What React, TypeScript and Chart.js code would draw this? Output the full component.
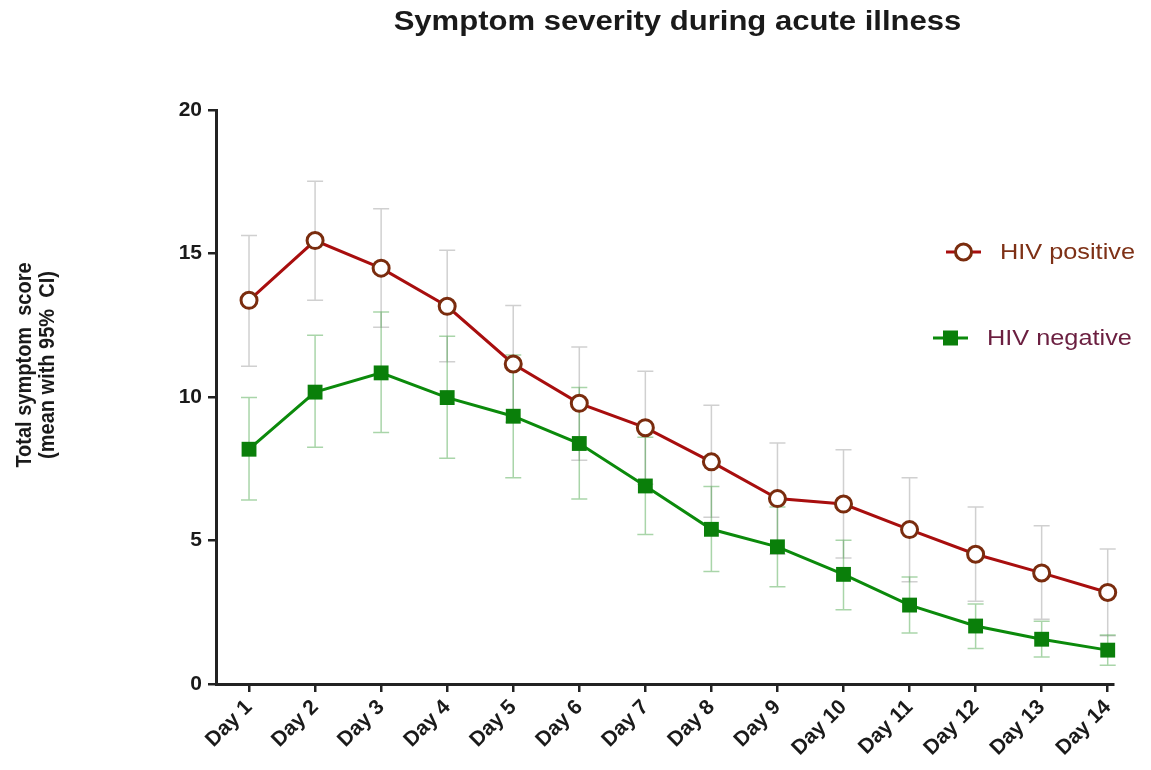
import React, { useEffect, useRef } from 'react';
import { Chart, registerables } from 'chart.js';

Chart.register(...registerables);

const chartTitle = 'Symptom severity during acute illness';
const yTitleLines = ['Total symptom  score', '(mean with 95%  CI)'];
const dayLabels = ['Day 1', 'Day 2', 'Day 3', 'Day 4', 'Day 5', 'Day 6', 'Day 7', 'Day 8', 'Day 9', 'Day 10', 'Day 11', 'Day 12', 'Day 13', 'Day 14'];
const dayIndex = [1, 2, 3, 4, 5, 6, 7, 8, 9, 10, 11, 12, 13, 14];
const yTicks = [0, 5, 10, 15, 20];

const posLabel = 'HIV positive';
const posMean = [13.37, 15.45, 14.49, 13.16, 11.15, 9.78, 8.93, 7.74, 6.46, 6.27, 5.38, 4.52, 3.87, 3.19];
const posLower = [11.07, 13.37, 12.43, 11.23, 9.12, 7.8, 6.96, 5.81, 4.52, 4.39, 3.56, 2.88, 2.26, 1.68];
const posUpper = [15.63, 17.52, 16.56, 15.11, 13.19, 11.74, 10.9, 9.71, 8.4, 8.16, 7.19, 6.17, 5.51, 4.7];

const negLabel = 'HIV negative';
const negMean = [8.18, 10.17, 10.84, 9.98, 9.33, 8.38, 6.9, 5.39, 4.78, 3.82, 2.75, 2.02, 1.56, 1.18];
const negLower = [6.41, 8.25, 8.76, 7.87, 7.19, 6.45, 5.21, 3.92, 3.39, 2.59, 1.78, 1.24, 0.94, 0.65];
const negUpper = [9.98, 12.15, 12.96, 12.12, 11.46, 10.33, 8.6, 6.88, 6.17, 5.01, 3.73, 2.79, 2.19, 1.71];

const FONT = '"Liberation Sans", Arial, Helvetica, sans-serif';
const POS_LINE = '#a80e0e';
const POS_MARK = '#7a2c0e';
const NEG_LINE = '#0b8a0b';
const NEG_MARK = '#0a7f0a';
const POS_CI = 'rgba(170,170,170,0.55)';
const NEG_CI = 'rgba(40,150,40,0.4)';

const ciSets = [
  { lower: posLower, upper: posUpper, color: POS_CI },
  { lower: negLower, upper: negUpper, color: NEG_CI },
];

const errorBarPlugin = {
  id: 'errorBars',
  beforeDatasetsDraw(chart: any) {
    const { ctx, scales } = chart;
    const xs = scales.x;
    const ys = scales.y;
    ctx.save();
    ciSets.forEach((set) => {
      ctx.strokeStyle = set.color;
      ctx.lineWidth = 1.5;
      dayIndex.forEach((d, i) => {
        const x = xs.getPixelForValue(d);
        const yl = ys.getPixelForValue(set.lower[i]);
        const yu = ys.getPixelForValue(set.upper[i]);
        ctx.beginPath();
        ctx.moveTo(x, yl);
        ctx.lineTo(x, yu);
        ctx.moveTo(x - 8, yl);
        ctx.lineTo(x + 8, yl);
        ctx.moveTo(x - 8, yu);
        ctx.lineTo(x + 8, yu);
        ctx.stroke();
      });
    });
    ctx.restore();
  },
};

const decorPlugin = {
  id: 'decor',
  afterDraw(chart: any) {
    const { ctx, chartArea } = chart;
    ctx.save();
    // Title
    ctx.fillStyle = '#1a1a1a';
    ctx.font = `bold 27px ${FONT}`;
    ctx.textAlign = 'center';
    ctx.textBaseline = 'middle';
    ctx.save();
    ctx.translate((chartArea.left + chartArea.right) / 2 + 13, 23);
    ctx.scale(1.15, 1);
    ctx.fillText(chartTitle, 0, 0);
    ctx.restore();

    // Y axis title
    ctx.save();
    ctx.translate(25, 365);
    ctx.rotate(-Math.PI / 2);
    ctx.font = `bold 20px ${FONT}`;
    ctx.textAlign = 'center';
    ctx.textBaseline = 'middle';
    ctx.scale(1, 1.1);
    ctx.fillText(yTitleLines[0], 0, 0);
    ctx.fillText(yTitleLines[1], 0, 21);
    ctx.restore();

    // Legend
    const items = [
      { label: posLabel, y: 252, x0: 946, line: POS_LINE, text: '#7e3116', kind: 'circle' },
      { label: negLabel, y: 338, x0: 933, line: NEG_LINE, text: '#6b1f40', kind: 'rect' },
    ];
    items.forEach((it) => {
      ctx.strokeStyle = it.line;
      ctx.lineWidth = 3;
      ctx.beginPath();
      ctx.moveTo(it.x0, it.y);
      ctx.lineTo(it.x0 + 35, it.y);
      ctx.stroke();
      const cx = it.x0 + 17.5;
      if (it.kind === 'circle') {
        ctx.fillStyle = '#ffffff';
        ctx.strokeStyle = POS_MARK;
        ctx.beginPath();
        ctx.arc(cx, it.y, 8, 0, Math.PI * 2);
        ctx.fill();
        ctx.stroke();
      } else {
        ctx.fillStyle = NEG_MARK;
        ctx.fillRect(cx - 7.5, it.y - 7.5, 15, 15);
      }
      ctx.fillStyle = it.text;
      ctx.font = `22px ${FONT}`;
      ctx.textAlign = 'left';
      ctx.textBaseline = 'middle';
      ctx.save();
      ctx.translate(it.x0 + 54, it.y + 1);
      ctx.scale(1.15, 1);
      ctx.fillText(it.label, 0, 0);
      ctx.restore();
    });
    ctx.restore();
  },
};

export default function App() {
  const canvasRef = useRef<HTMLCanvasElement | null>(null);

  useEffect(() => {
    document.body.style.margin = '0';
    const canvas = canvasRef.current;
    if (!canvas) return;
    const chart = new Chart(canvas, {
      type: 'line',
      data: {
        datasets: [
          {
            label: negLabel,
            data: dayIndex.map((d, i) => ({ x: d, y: negMean[i] })),
            borderColor: NEG_LINE,
            borderWidth: 3,
            pointStyle: 'rect',
            pointRadius: 10.5,
            pointBackgroundColor: NEG_MARK,
            pointBorderColor: NEG_MARK,
            pointBorderWidth: 0,
            tension: 0,
            clip: false,
          },
          {
            label: posLabel,
            data: dayIndex.map((d, i) => ({ x: d, y: posMean[i] })),
            borderColor: POS_LINE,
            borderWidth: 3,
            pointStyle: 'circle',
            pointRadius: 8,
            pointBackgroundColor: '#ffffff',
            pointBorderColor: POS_MARK,
            pointBorderWidth: 3,
            tension: 0,
            clip: false,
          },
        ],
      },
      options: {
        animation: false,
        responsive: false,
        devicePixelRatio: 1,
        layout: { padding: { top: 110, right: 38, bottom: 0, left: 0 } },
        plugins: {
          legend: { display: false },
          title: { display: false },
          tooltip: { enabled: false },
        },
        scales: {
          x: {
            type: 'linear',
            min: 0.5,
            max: 14.08,
            afterBuildTicks: (scale: any) => {
              scale.ticks = dayIndex.map((v) => ({ value: v }));
            },
            afterFit: (scale: any) => {
              scale.height = 86;
            },
            grid: {
              drawOnChartArea: false,
              drawTicks: true,
              tickLength: 8,
              color: '#222',
              lineWidth: 2.5,
            },
            border: { display: true, color: '#222', width: 3 },
            ticks: {
              autoSkip: false,
              minRotation: 45,
              maxRotation: 45,
              padding: 3,
              color: '#1a1a1a',
              font: { family: FONT, size: 21, weight: 'bold' },
              callback: (_v: any, i: number) => dayLabels[i],
            },
          },
          y: {
            type: 'linear',
            min: 0,
            max: 20,
            afterBuildTicks: (scale: any) => {
              scale.ticks = yTicks.map((v) => ({ value: v }));
            },
            afterFit: (scale: any) => {
              scale.width = 216;
            },
            grid: {
              drawOnChartArea: false,
              drawTicks: true,
              tickLength: 8,
              color: '#222',
              lineWidth: 2.5,
            },
            border: { display: true, color: '#222', width: 3 },
            ticks: {
              padding: 6,
              color: '#1a1a1a',
              font: { family: FONT, size: 21, weight: 'bold' },
            },
          },
        },
      },
      plugins: [errorBarPlugin, decorPlugin],
    });
    return () => chart.destroy();
  }, []);

  return (
    <div style={{ width: 1151, height: 770 }}>
      <canvas ref={canvasRef} width={1151} height={770} />
    </div>
  );
}
